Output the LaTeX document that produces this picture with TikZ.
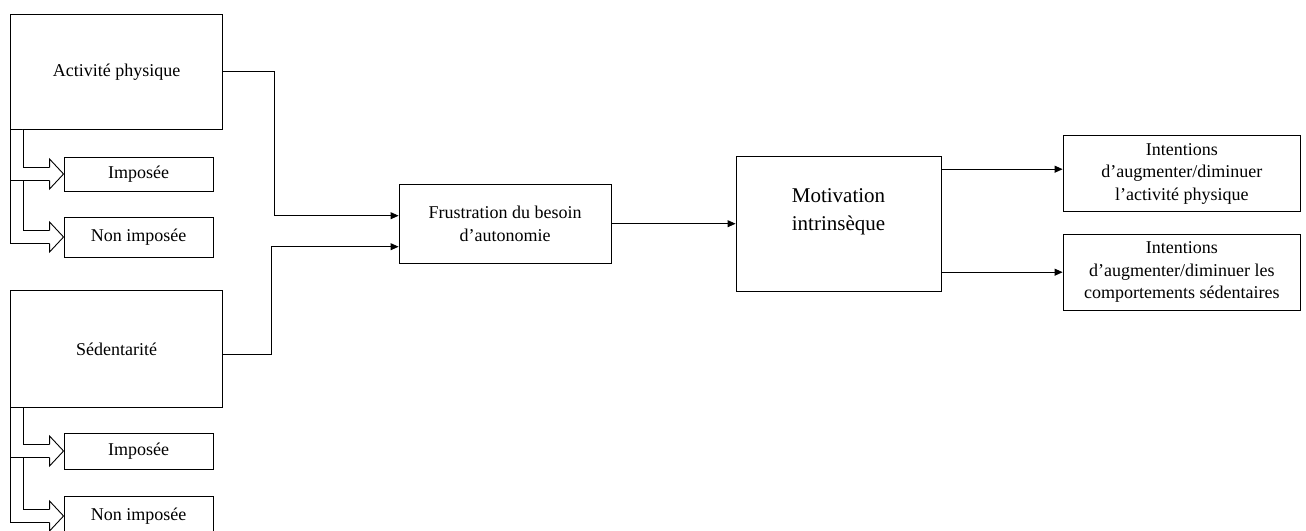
\documentclass[tikz,border=0pt]{standalone}
\usepackage{fontspec}
\setmainfont{Liberation Serif}
\usetikzlibrary{arrows.meta}

\begin{document}
\begin{tikzpicture}[>={Triangle[length=8bp,width=7bp]}, line width=0.9bp, font=\fontsize{18bp}{22.7bp}\selectfont,
  block/.style={rectangle, draw, align=center, inner sep=2bp},
  bigbox/.style={block, minimum width=212bp},
  smallbox/.style={block, minimum width=149bp},
  intbox/.style={block, minimum width=237.7bp, minimum height=76bp},
  hollow/.style={double, double distance=12.4bp}]

    \useasboundingbox (0,0) rectangle (1306bp,-531bp);

    \node[bigbox, minimum height=115bp] (ap) at (116.7bp,-71.7bp) {Activité physique};
    \node[smallbox, minimum height=34bp, below of=ap, node distance=102.3bp, xshift=21.8bp] (imp1) {Imposée};
    \node[smallbox, minimum height=40bp, below of=imp1, node distance=63bp] (non1) {Non imposée};
    \node[bigbox, minimum height=117bp, below of=ap, node distance=277.6bp] (sed) {Sédentarité};
    \node[smallbox, minimum height=36bp, below of=sed, node distance=101.7bp, xshift=21.8bp] (imp2) {Imposée};
    \node[smallbox, minimum height=40bp, below of=imp2, node distance=65bp] (non2) {Non imposée};
    \node[bigbox, minimum height=79bp, below of=ap, node distance=152bp, xshift=388.3bp] (frus) {Frustration du besoin\\d’autonomie};
    \node[block, minimum width=205bp, minimum height=135bp, right of=frus, node distance=333.5bp,
      label={[font=\fontsize{21bp}{28bp}\selectfont, align=center, yshift=11.5bp]center:Motivation\\intrinsèque}] (mot) {};
    \node[intbox, right of=mot, node distance=343.4bp, yshift=49.8bp] (int1) {Intentions\\d’augmenter/diminuer\\l’activité physique};
    \node[intbox, right of=mot, node distance=343.4bp, yshift=-48.5bp] (int2) {Intentions\\d’augmenter/diminuer les\\comportements sédentaires};

    % hollow branches to the sub-boxes
    \draw[hollow] ([xshift=6.65bp]ap.south west) |- ([xshift=-14bp]non1.west);
    \draw[hollow] ([xshift=6.65bp]ap.south west) |- ([xshift=-14bp]imp1.west);
    \draw[hollow] ([xshift=6.65bp]sed.south west) |- ([xshift=-14bp]non2.west);
    \draw[hollow] ([xshift=6.65bp]sed.south west) |- ([xshift=-14bp]imp2.west);
    \foreach \b in {imp1,non1,imp2,non2}
      \filldraw[fill=white] ([shift={(-14bp,6.65bp)}]\b.west) -- ++(0,8.35bp) -- (\b.west) -- ([shift={(-14bp,-15bp)}]\b.west) -- ++(0,8.35bp);

    \draw[->] (ap.east) -- ++(51.3bp,0) |- ([yshift=8bp]frus.west);
    \draw[->] ([yshift=-5bp]sed.east) -- ++(48.6bp,0) |- ([yshift=-23bp]frus.west);
    \draw[->] (frus.east) -- (frus.east -| mot.west);
    \draw[->] ([yshift=4.7bp]int1.west -| mot.east) -- ([yshift=4.7bp]int1.west);
    \draw[->] (int2.west -| mot.east) -- (int2.west);

\end{tikzpicture}
\end{document}
